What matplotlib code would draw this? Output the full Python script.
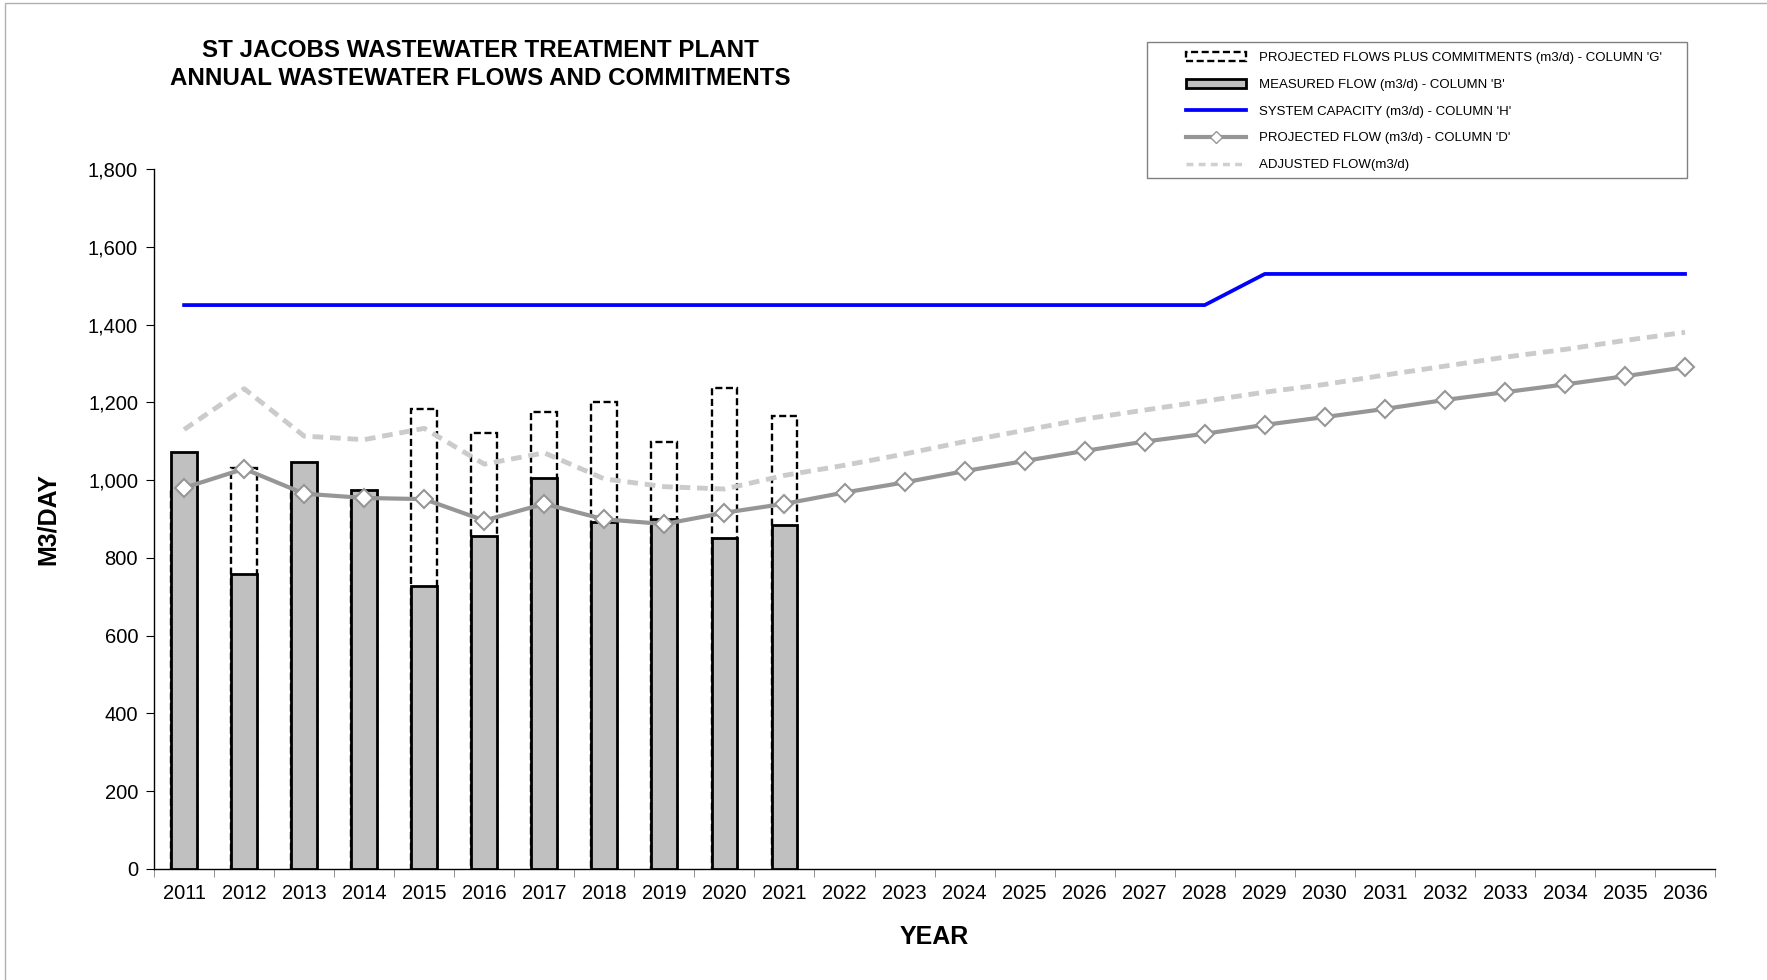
import numpy as np
import matplotlib.pyplot as plt
from matplotlib.ticker import FuncFormatter, FixedLocator
from matplotlib.lines import Line2D
from matplotlib.patches import Patch, Rectangle

plt.rcParams['font.family'] = ['Liberation Sans', 'DejaVu Sans']

# 数据
years = list(range(2011, 2037))
measured = [1072, 759, 1046, 974, 727, 855, 1006, 893, 901, 852, 884]
committed = [980, 1032, 965, 954, 1183, 1122, 1174, 1200, 1099, 1238, 1165]
capacity = [1450] * 18 + [1530] * 8
projected = [980, 1029, 965, 954, 951, 896, 939, 899, 887, 916, 939, 968, 994,
             1023, 1049, 1075, 1099, 1119, 1142, 1162, 1183, 1206, 1226, 1246,
             1267, 1290]
adjusted = [1130, 1235, 1113, 1104, 1133, 1041, 1070, 1003, 983, 977, 1012, 1038,
            1067, 1099, 1128, 1157, 1180, 1203, 1226, 1246, 1270, 1293, 1316,
            1336, 1359, 1380]

x = np.arange(len(years))
xb = np.arange(len(measured))

fig = plt.figure(figsize=(17.67, 9.8), dpi=100)
ax = fig.add_axes([0.0872, 0.1133, 0.8834, 0.7143])

# 柱
ax.bar(xb, committed, width=0.43, facecolor='none', edgecolor='black',
       linestyle=(0, (3, 1.5)), linewidth=1.7, zorder=2)
ax.bar(xb, measured, width=0.43, facecolor='#c0c0c0', edgecolor='black',
       linewidth=2, zorder=3)

# 线
ax.plot(x, adjusted, color='#cbcbcb', linewidth=3.5, linestyle=(0, (2.2, 1.4)),
        zorder=4)
ax.plot(x, capacity, color='#0000ff', linewidth=2.7, zorder=4)
ax.plot(x, projected, color='#969696', linewidth=3, marker='D', markersize=9,
        markerfacecolor='white', markeredgecolor='#969696', markeredgewidth=1.5,
        zorder=5)

ax.set_xlim(-0.5, len(years) - 0.5)
ax.set_ylim(0, 1800)
ax.set_yticks(range(0, 1801, 200))
ax.yaxis.set_major_formatter(FuncFormatter(lambda v, p: f'{v:,.0f}'))
ax.set_xticks(x)
ax.set_xticklabels([str(y) for y in years])
ax.tick_params(axis='x', length=0, labelsize=14.5, pad=11)
ax.xaxis.set_minor_locator(FixedLocator(np.arange(-0.5, len(years), 1)))
ax.tick_params(axis='x', which='minor', length=6, direction='out', color='#808080')
ax.tick_params(axis='y', length=6, direction='out', labelsize=14.5, pad=5.5)
for s in ['top', 'right']:
    ax.spines[s].set_visible(False)
ax.spines['left'].set_linewidth(1)
ax.spines['bottom'].set_linewidth(1)

ax.set_xlabel('YEAR', fontsize=18, fontweight='bold', labelpad=16)
ax.set_ylabel('M3/DAY', fontsize=18, fontweight='bold', labelpad=20)

fig.text(0.272, 0.948, 'ST JACOBS WASTEWATER TREATMENT PLANT', ha='center',
         va='center', fontsize=17.4, fontweight='bold')
fig.text(0.272, 0.920, 'ANNUAL WASTEWATER FLOWS AND COMMITMENTS', ha='center',
         va='center', fontsize=17.4, fontweight='bold')

# 图例
handles = [
    Patch(facecolor='white', edgecolor='black', linestyle=(0, (3, 1.5)), linewidth=1.7),
    Patch(facecolor='#c0c0c0', edgecolor='black', linewidth=2),
    Line2D([], [], color='#0000ff', linewidth=2.7),
    Line2D([], [], color='#969696', linewidth=3, marker='D', markersize=6,
           markerfacecolor='white', markeredgecolor='#969696'),
    Line2D([], [], color='#d0d0d0', linewidth=2.5, linestyle=(0, (2, 1.5))),
]
labels = ["PROJECTED FLOWS PLUS COMMITMENTS (m3/d) - COLUMN 'G'",
          "MEASURED FLOW (m3/d) - COLUMN 'B'",
          "SYSTEM CAPACITY (m3/d) - COLUMN 'H'",
          "PROJECTED FLOW (m3/d) - COLUMN 'D'",
          "ADJUSTED FLOW(m3/d)"]
leg = fig.legend(handles, labels, loc='upper left',
                 bbox_to_anchor=(0.671, 0.947), fontsize=9.5,
                 handlelength=4.6, labelspacing=1.1, borderpad=0,
                 handletextpad=0.94, borderaxespad=0, frameon=False)

# 图例框
fig.patches.append(Rectangle((0.6493, 0.8183), 0.3055, 0.1392,
                             transform=fig.transFigure, fill=False,
                             edgecolor='#808080', linewidth=1))

# 外框
fig.patches.append(Rectangle((0.003, -0.01), 1.1, 1.007, transform=fig.transFigure,
                             fill=False, edgecolor='#b0b0b0', linewidth=1))

fig.savefig('out.png', dpi=100)
